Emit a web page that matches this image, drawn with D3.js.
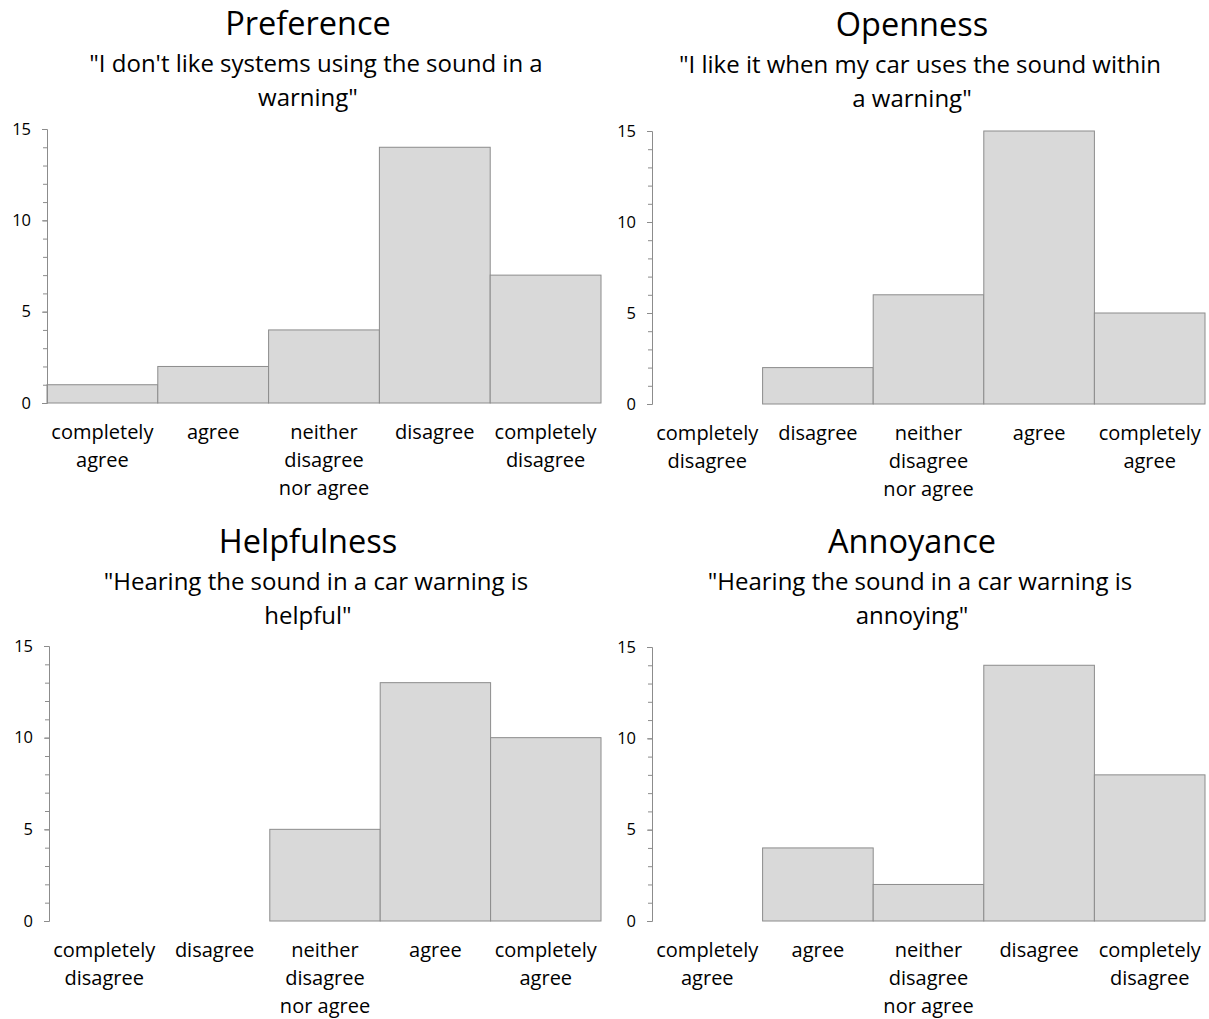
<!DOCTYPE html>
<html>
<head>
<meta charset="utf-8">
<script src="https://cdn.jsdelivr.net/npm/d3@7"></script>
<style>
  body { margin: 0; background: #fff; }
  svg text { font-family: "Open Sans", Lato, sans-serif; fill: #000; }
</style>
</head>
<body>
<svg id="chart" width="1209" height="1019"></svg>
<script>
// ---- data ----
const titles = ["Preference", "Openness", "Helpfulness", "Annoyance"];
const subtitles = [
  ["\"I don't like systems using the sound in a", "warning\""],
  ["\"I like it when my car uses the sound within", "a warning\""],
  ["\"Hearing the sound in a car warning is", "helpful\""],
  ["\"Hearing the sound in a car warning is", "annoying\""]
];
const categoriesAgreeFirst = ["completely|agree", "agree", "neither|disagree|nor agree", "disagree", "completely|disagree"];
const categoriesDisagreeFirst = ["completely|disagree", "disagree", "neither|disagree|nor agree", "agree", "completely|agree"];
const preferenceValues = [1, 2, 4, 14, 7];
const opennessValues = [0, 2, 6, 15, 5];
const helpfulnessValues = [0, 0, 5, 13, 10];
const annoyanceValues = [0, 4, 2, 14, 8];
const yTicks = [0, 5, 10, 15];
const yMinorTicks = d3.range(0, 16, 1);

const panels = [
  { title: titles[0], sub: subtitles[0], cats: categoriesAgreeFirst, vals: preferenceValues,
    x0: 47, x1: 601, y0: 403, y15: 129, cx: 308, titleY: 35 },
  { title: titles[1], sub: subtitles[1], cats: categoriesDisagreeFirst, vals: opennessValues,
    x0: 652, x1: 1205, y0: 404, y15: 131, cx: 912, titleY: 36 },
  { title: titles[2], sub: subtitles[2], cats: categoriesDisagreeFirst, vals: helpfulnessValues,
    x0: 49, x1: 601, y0: 921, y15: 646, cx: 308, titleY: 553 },
  { title: titles[3], sub: subtitles[3], cats: categoriesAgreeFirst, vals: annoyanceValues,
    x0: 652, x1: 1205, y0: 921, y15: 647, cx: 912, titleY: 553 }
];

const svg = d3.select("#chart");

panels.forEach(p => {
  const g = svg.append("g");
  const x = d3.scaleBand().domain(d3.range(p.cats.length)).range([p.x0, p.x1]).padding(0);
  const y = d3.scaleLinear().domain([0, 15]).range([p.y0, p.y15]);

  // title + subtitle
  g.append("text").attr("x", p.cx).attr("y", p.titleY)
    .attr("text-anchor", "middle").attr("font-size", 32.5).text(p.title);
  p.sub.forEach((line, i) => {
    g.append("text").attr("x", p.cx + (i === 0 ? 8 : 0)).attr("y", p.titleY + 37 + i * 34)
      .attr("text-anchor", "middle").attr("font-size", 24).text(line);
  });

  // bars
  g.selectAll("rect.bar").data(p.vals.map((v, i) => ({ v, i })).filter(d => d.v > 0))
    .enter().append("rect")
    .attr("x", d => x(d.i)).attr("y", d => y(d.v))
    .attr("width", x.bandwidth()).attr("height", d => y(0) - y(d.v))
    .attr("fill", "#d9d9d9").attr("stroke", "#8c8c8c").attr("stroke-width", 1);

  // y axis minor ticks
  const minor = d3.axisLeft(y).tickValues(yMinorTicks).tickSize(4).tickFormat("");
  const ga = g.append("g").attr("transform", `translate(${p.x0},0)`).call(minor);
  ga.select(".domain").attr("stroke", "#8c8c8c");
  ga.selectAll(".tick line").attr("stroke", "#8c8c8c");
  // y axis major ticks
  const major = d3.axisLeft(y).tickValues(yTicks).tickSize(5).tickPadding(11);
  const gb = g.append("g").attr("transform", `translate(${p.x0},0)`).call(major);
  gb.select(".domain").remove();
  gb.selectAll(".tick line").attr("stroke", "#8c8c8c");
  gb.selectAll(".tick text").attr("font-size", 16.5).attr("fill", "#000")
    .attr("font-family", "'Open Sans', Lato, sans-serif");

  // category labels
  p.cats.forEach((c, i) => {
    const t = g.append("text").attr("text-anchor", "middle").attr("font-size", 20)
      .attr("x", x(i) + x.bandwidth() / 2).attr("y", p.y0 + 36);
    c.split("|").forEach((ln, j) => {
      t.append("tspan").attr("x", x(i) + x.bandwidth() / 2).attr("dy", j === 0 ? 0 : 28).text(ln);
    });
  });
});
</script>
</body>
</html>
